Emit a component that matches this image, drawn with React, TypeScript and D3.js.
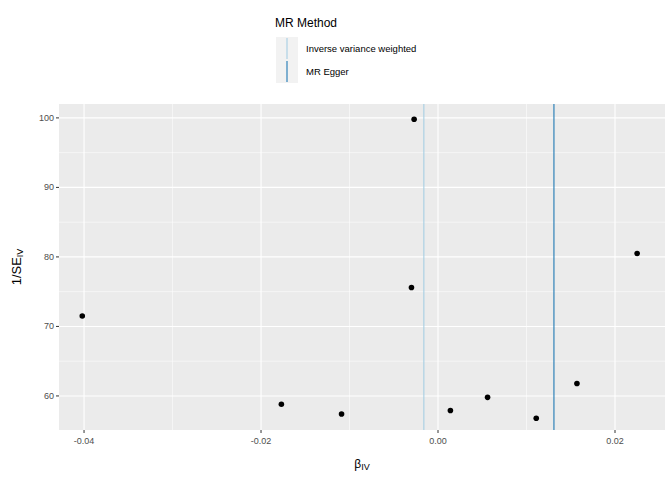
import React from "react";
import * as d3 from "d3";

const betaIV = [-0.0402, -0.0177, -0.0109, -0.0027, -0.003, 0.0014, 0.0056, 0.0111, 0.0157, 0.0225];
const invSE = [71.5, 58.8, 57.4, 99.8, 75.6, 57.9, 59.8, 56.8, 61.8, 80.5];
const methods = ["Inverse variance weighted", "MR Egger"];
const methodEst = [-0.0016, 0.0131];
const methodColors = ["#a6cee3", "#1f78b4"];
const xTicks = [-0.04, -0.02, 0, 0.02];
const yTicks = [60, 70, 80, 90, 100];

export default function App() {
  const L = 59, R = 665, T = 104, B = 430;
  const x = d3.scaleLinear().domain([-0.04283, 0.02565]).range([L, R]);
  const y = d3.scaleLinear().domain([55.1, 102.0]).range([B, T]);
  const xMinor = [-0.03, -0.01, 0.01];
  const yMinor = [65, 75, 85, 95];
  const font = "Liberation Sans, Arial, sans-serif";
  return (
    <svg width={672} height={480} style={{ position: "absolute", left: 0, top: 0 }} fontFamily={font}>
      <rect width={672} height={480} fill="white" />
      <rect x={L} y={T} width={R - L} height={B - T} fill="#ebebeb" />
      {xMinor.map(v => <line key={"xm" + v} x1={x(v)} x2={x(v)} y1={T} y2={B} stroke="white" strokeWidth={0.55} />)}
      {yMinor.map(v => <line key={"ym" + v} y1={y(v)} y2={y(v)} x1={L} x2={R} stroke="white" strokeWidth={0.55} />)}
      {xTicks.map(v => <line key={"x" + v} x1={x(v)} x2={x(v)} y1={T} y2={B} stroke="white" strokeWidth={1.1} />)}
      {yTicks.map(v => <line key={"y" + v} y1={y(v)} y2={y(v)} x1={L} x2={R} stroke="white" strokeWidth={1.1} />)}
      {methodEst.map((v, i) => <line key={"m" + i} x1={x(v)} x2={x(v)} y1={T} y2={B} stroke={methodColors[i]} strokeWidth={1.1} />)}
      {betaIV.map((b, i) => <circle key={i} cx={x(b)} cy={y(invSE[i])} r={2.8} fill="black" />)}
      {xTicks.map(v => (
        <g key={"xt" + v}>
          <line x1={x(v)} x2={x(v)} y1={B} y2={B + 3} stroke="#333" />
          <text x={x(v)} y={B + 14} fontSize={9} fill="#4d4d4d" textAnchor="middle">{d3.format(".2f")(v).replace("−", "-")}</text>
        </g>
      ))}
      {yTicks.map(v => (
        <g key={"yt" + v}>
          <line x1={L - 3} x2={L} y1={y(v)} y2={y(v)} stroke="#333" />
          <text x={L - 5} y={y(v) + 3} fontSize={9} fill="#4d4d4d" textAnchor="end">{v}</text>
        </g>
      ))}
      <text x={(L + R) / 2} y={468} fontSize={12} textAnchor="middle">β<tspan fontSize={9} dy={2}>IV</tspan></text>
      <text transform={`translate(21,${(T + B) / 2}) rotate(-90)`} fontSize={13} textAnchor="middle">1/SE<tspan fontSize={9} dy={2}>IV</tspan></text>
      <text x={275} y={27} fontSize={12}>MR Method</text>
      {methods.map((m, i) => (
        <g key={m}>
          <rect x={276} y={37 + i * 23} width={22} height={23} fill="#f2f2f2" />
          <line x1={287} x2={287} y1={38 + i * 23} y2={59 + i * 23} stroke={methodColors[i]} strokeWidth={1.1} />
          <text x={306} y={52 + i * 23} fontSize={9.5}>{m}</text>
        </g>
      ))}
    </svg>
  );
}
